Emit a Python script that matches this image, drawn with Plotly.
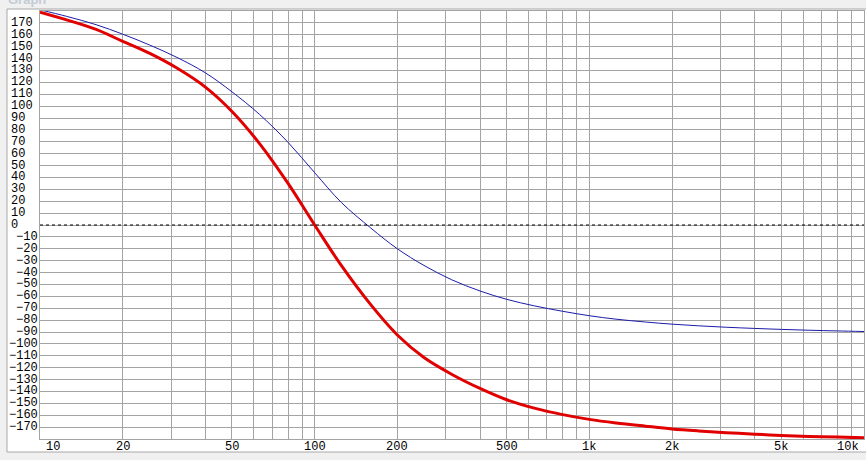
import math
import plotly.graph_objects as go

# ---- data ----
freq = [10, 12.5, 16, 20, 25, 31.5, 40, 50, 63, 80, 100, 125, 160, 200, 250,
        315, 400, 500, 630, 800, 1000, 1250, 1600, 2000, 2500, 3150, 4000,
        5000, 6300, 8000, 10000]
red_phase = [179, 172.5, 164.5, 154.5, 144.5, 132, 116, 95.5, 68.5, 35, 0, -34,
             -67, -92.5, -111.5, -125.5, -137.5, -147, -154, -159.5, -163.5,
             -166.5, -169.2, -171.5, -173.2, -174.7, -175.9, -177, -177.8,
             -178.4, -179]
blue_phase = [181, 175.5, 168.5, 160.5, 151.5, 141, 128, 112, 93, 69.5, 44, 19,
              -2.5, -20, -34, -46, -55.5, -62.5, -68, -72.6, -76.3, -79.2,
              -81.6, -83.4, -84.8, -86, -87, -87.8, -88.5, -89.1, -89.6]

x_grid = [m * 10 ** d for d in range(1, 4) for m in range(1, 10)] + [10000]
x_label_vals = [10, 20, 50, 100, 200, 500, 1000, 2000, 5000, 10000]
x_label_text = ["10", "20", "50", "100", "200", "500", "1k", "2k", "5k", "10k"]
y_grid = list(range(-180, 181, 10))
y_label_vals = list(range(-170, 171, 10))

W, H = 866, 460
L, R, T, B = 40, 2, 11, 21
PW, PH = W - L - R, H - T - B
FONT = "Liberation Mono"


def px_to_paper_x(px):
    return (px - L) / PW


def py_to_paper_y(py):
    return (H - B - py) / PH


fig = go.Figure()

fig.add_trace(go.Scatter(x=freq, y=blue_phase, mode="lines",
                         line=dict(color="#1c1ca8", width=1, shape="spline"),
                         hoverinfo="skip", showlegend=False))
fig.add_trace(go.Scatter(x=freq, y=red_phase, mode="lines",
                         line=dict(color="#e10000", width=3, shape="spline"),
                         hoverinfo="skip", showlegend=False))

shapes = []
# white panel with border
shapes.append(dict(type="rect", xref="paper", yref="paper", layer="below",
                   x0=px_to_paper_x(7), x1=px_to_paper_x(868),
                   y0=py_to_paper_y(452), y1=py_to_paper_y(9),
                   fillcolor="white", line=dict(color="#a8a8a8", width=1)))
# dashed zero line
shapes.append(dict(type="line", xref="paper", yref="y", x0=0, x1=1, y0=0, y1=0,
                   line=dict(color="black", width=1, dash="3px,3px")))

annotations = []
annotations.append(dict(text="<b>Graph</b>", xref="paper", yref="paper",
                        x=px_to_paper_x(6), y=py_to_paper_y(9),
                        xanchor="left", yanchor="bottom", showarrow=False,
                        font=dict(family="Arial", size=13, color="#c4ccd6")))
for v, t in zip(x_label_vals, x_label_text):
    if v == 10:
        xa, xs = "left", 4
    elif v == 10000:
        xa, xs = "right", -3
    else:
        xa, xs = "center", 0
    annotations.append(dict(text=t, xref="x", yref="paper", x=math.log10(v),
                            y=py_to_paper_y(447), xanchor=xa, yanchor="middle",
                            xshift=xs, showarrow=False,
                            font=dict(family=FONT, size=12, color="black")))
for v in y_label_vals:
    s = str(v).replace("-", "\u2212")
    if v >= 0:
        px = 9
    elif v > -100:
        px = 14
    else:
        px = 7
    annotations.append(dict(text=s, xref="paper", yref="y", x=px_to_paper_x(px),
                            y=v, xanchor="left", yanchor="middle", showarrow=False,
                            font=dict(family=FONT, size=12, color="black")))

fig.update_layout(
    width=W, height=H,
    margin=dict(l=L, r=R, t=T, b=B, pad=0),
    paper_bgcolor="#f0f0f0", plot_bgcolor="white",
    shapes=shapes, annotations=annotations,
    xaxis=dict(type="log", range=[1, 4], tickvals=x_grid, showticklabels=False,
               ticks="", showgrid=True, gridcolor="#a4a4a4", gridwidth=1,
               showline=True, linecolor="#a4a4a4", mirror=True, zeroline=False),
    yaxis=dict(range=[-180, 180], tickvals=y_grid, showticklabels=False,
               ticks="", showgrid=True, gridcolor="#a4a4a4", gridwidth=1,
               showline=True, linecolor="#a4a4a4", mirror=True, zeroline=False),
)

fig.write_html("out.html", config={"displayModeBar": False},
               post_script="document.body.style.margin='0';"
                           "document.body.style.background='#f0f0f0';")
